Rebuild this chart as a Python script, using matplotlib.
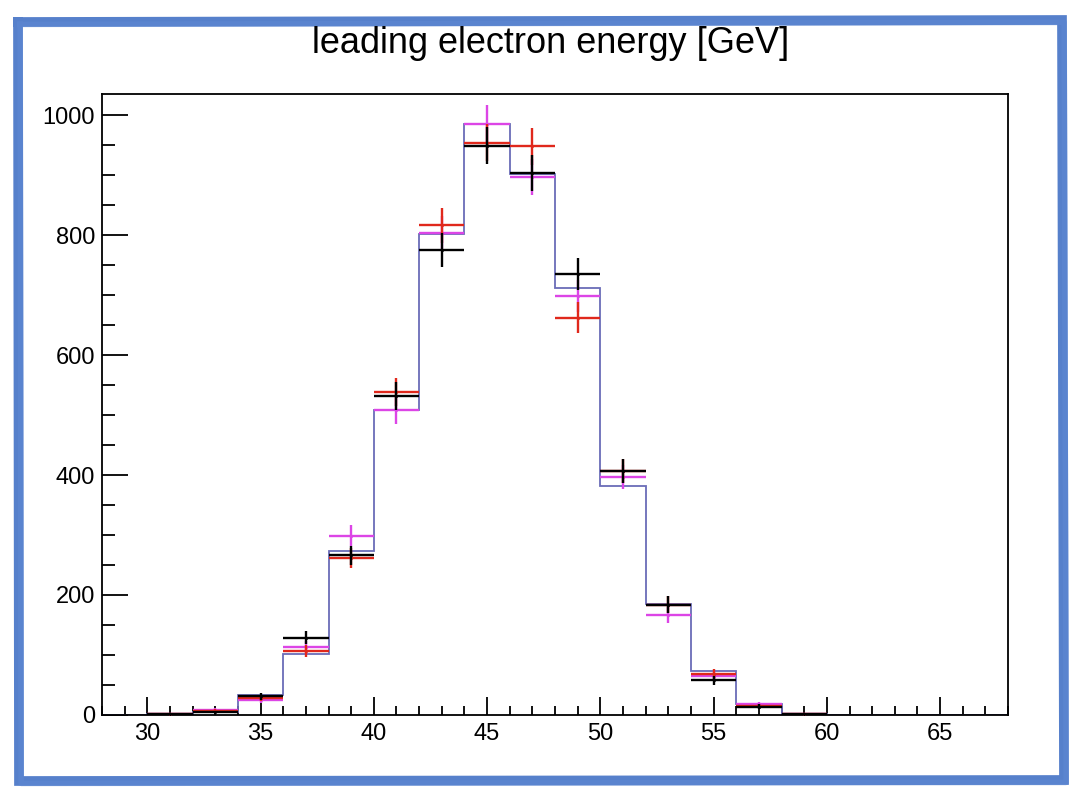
import numpy as np
import matplotlib
matplotlib.use("Agg")
import matplotlib.pyplot as plt
from matplotlib.lines import Line2D
from matplotlib.ticker import MultipleLocator

# bin edges 28..68, width 2
bin_edges = list(range(28, 70, 2))
bin_centres = [e + 1 for e in bin_edges[:-1]]

# blue reference histogram
hist_blue = [0, 2, 5, 33, 101, 273, 509, 802, 985, 901,
             711, 382, 185, 74, 18, 2, 0, 0, 0, 0]
# three data sets drawn as crosses
pts_black = [0, 1, 5, 31, 129, 266, 532, 775, 949, 904,
             735, 406, 184, 58, 14, 1, 0, 0, 0, 0]
pts_red = [0, 1, 7, 28, 107, 262, 538, 816, 954, 948,
           662, 406, 184, 68, 15, 1, 0, 0, 0, 0]
pts_magenta = [0, 1, 9, 25, 113, 299, 508, 803, 985, 896,
               698, 397, 167, 65, 18, 2, 0, 0, 0, 0]

plt.rcParams['font.family'] = ['Liberation Sans', 'DejaVu Sans']

fig = plt.figure(figsize=(10.77, 7.94), dpi=100)
ax = fig.add_axes([0.0947, 0.0995, 0.8413, 0.7821])

ax.stairs(hist_blue, bin_edges, color='#6a6cb8', linewidth=1.3, zorder=2)


def draw_points(vals, colour, z):
    x = np.array(bin_centres, dtype=float)
    y = np.array(vals, dtype=float)
    keep = y > 0
    ax.errorbar(x[keep], y[keep], xerr=1.0, yerr=np.sqrt(y[keep]),
                fmt='.', markersize=2.5, color=colour, ecolor=colour,
                elinewidth=1.7, capsize=0, zorder=z)


draw_points(pts_magenta, '#dc45e6', 3)
draw_points(pts_red, '#e0281c', 4)
draw_points(pts_black, 'black', 5)

ax.set_xlim(28, 68)
ax.set_ylim(0, 1035)
ax.xaxis.set_major_locator(MultipleLocator(5))
ax.xaxis.set_minor_locator(MultipleLocator(1))
ax.yaxis.set_major_locator(MultipleLocator(200))
ax.yaxis.set_minor_locator(MultipleLocator(50))
ax.tick_params(axis='both', which='both', direction='in', top=False, right=False,
               labelsize=17, width=1.3, colors='black')
ax.tick_params(axis='x', which='major', length=13, pad=6)
ax.tick_params(axis='x', which='minor', length=6.5)
ax.tick_params(axis='y', which='major', length=19, pad=5)
ax.tick_params(axis='y', which='minor', length=9)
for sp in ax.spines.values():
    sp.set_linewidth(1.3)

fig.text(0.511, 0.945, 'leading electron energy [GeV]', ha='center', va='center',
         fontsize=26, family=['Liberation Sans Narrow', 'Liberation Sans', 'DejaVu Sans'])

# hand drawn looking blue frame around the picture
W, H = 1077.0, 794.0
frame_x = [18 / W, 1062 / W, 1064 / W, 19 / W, 18 / W]
frame_y = [1 - 22 / H, 1 - 20 / H, 1 - 780 / H, 1 - 781 / H, 1 - 22 / H]
fig.add_artist(Line2D(frame_x, frame_y, color='#4472c6', linewidth=7,
                      solid_joinstyle='miter', alpha=0.9))
fig.add_artist(Line2D([x + 0.002 for x in frame_x], [y - 0.003 for y in frame_y],
                      color='#5d88d2', linewidth=4, alpha=0.6))

fig.savefig('out.png', dpi=100)
